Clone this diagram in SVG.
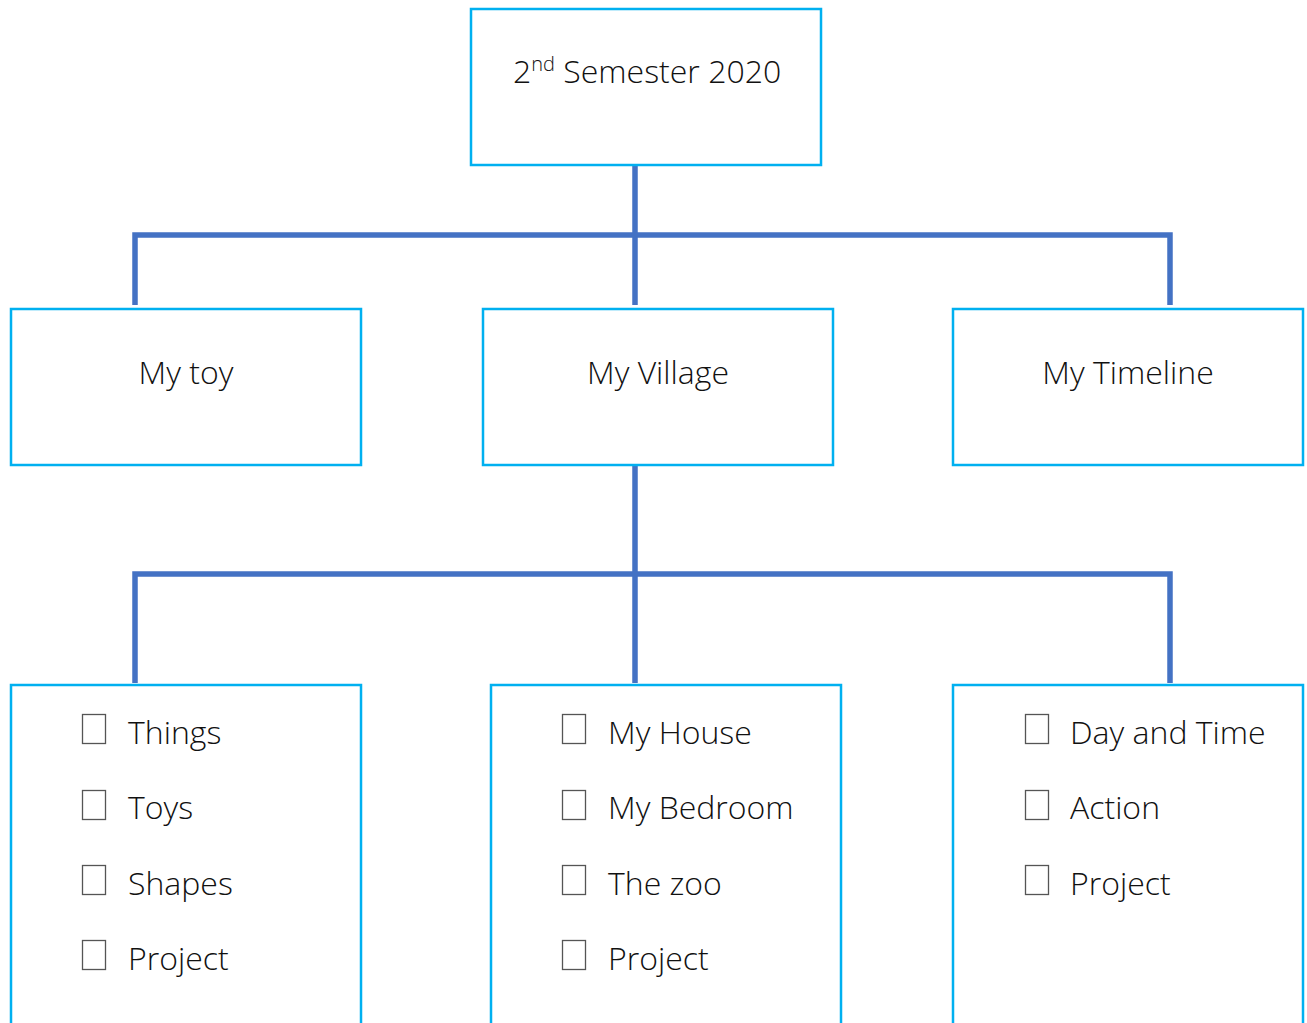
<svg xmlns="http://www.w3.org/2000/svg" width="1307" height="1023" viewBox="0 0 1307 1023">
<style>
.box{fill:#fff;stroke:#00B0F0;stroke-width:2.5}
.conn{fill:none;stroke:#4472C4;stroke-width:5.5;stroke-linecap:butt;stroke-linejoin:miter}
.t{font-family:"Open Sans","Noto Sans","DejaVu Sans",sans-serif;font-size:32px;fill:#111;font-weight:300}
.c{text-anchor:middle}
.cb{fill:#fff;stroke:#555;stroke-width:1.3}
</style>
<rect width="1307" height="1023" fill="#fff"/>
<g id="connectors">
<path class="conn" d="M635 165V305M135 305V235H1170V305"/>
<path class="conn" d="M635 465V683M135 683V574H1170V683"/>
</g>
<g id="root">
<rect class="box" x="471" y="9" width="350" height="156"/>
<text class="t" x="513" y="83">2<tspan font-size="20" dy="-12">nd</tspan><tspan dy="12"> Semester 2020</tspan></text>
</g>
<g id="my-toy">
<rect class="box" x="11" y="309" width="350" height="156"/>
<text class="t c" x="186" y="384">My toy</text>
</g>
<g id="my-village">
<rect class="box" x="483" y="309" width="350" height="156"/>
<text class="t c" x="658" y="384">My Village</text>
</g>
<g id="my-timeline">
<rect class="box" x="953" y="309" width="350" height="156"/>
<text class="t c" x="1128" y="384">My Timeline</text>
</g>
<g id="list-toy">
<rect class="box" x="11" y="685" width="350" height="345"/>
<rect class="cb" x="82.5" y="714.5" width="23" height="29"/>
<text class="t" x="128" y="744">Things</text>
<rect class="cb" x="82.5" y="790.5" width="23" height="29"/>
<text class="t" x="128" y="819">Toys</text>
<rect class="cb" x="82.5" y="865.5" width="23" height="29"/>
<text class="t" x="128" y="895">Shapes</text>
<rect class="cb" x="82.5" y="940.5" width="23" height="29"/>
<text class="t" x="128" y="970">Project</text>
</g>
<g id="list-village">
<rect class="box" x="491" y="685" width="350" height="345"/>
<rect class="cb" x="562.5" y="714.5" width="23" height="29"/>
<text class="t" x="608" y="744">My House</text>
<rect class="cb" x="562.5" y="790.5" width="23" height="29"/>
<text class="t" x="608" y="819">My Bedroom</text>
<rect class="cb" x="562.5" y="865.5" width="23" height="29"/>
<text class="t" x="608" y="895">The zoo</text>
<rect class="cb" x="562.5" y="940.5" width="23" height="29"/>
<text class="t" x="608" y="970">Project</text>
</g>
<g id="list-timeline">
<rect class="box" x="953" y="685" width="350" height="345"/>
<rect class="cb" x="1025.5" y="714.5" width="23" height="29"/>
<text class="t" x="1070" y="744">Day and Time</text>
<rect class="cb" x="1025.5" y="790.5" width="23" height="29"/>
<text class="t" x="1070" y="819">Action</text>
<rect class="cb" x="1025.5" y="865.5" width="23" height="29"/>
<text class="t" x="1070" y="895">Project</text>
</g>
</svg>
